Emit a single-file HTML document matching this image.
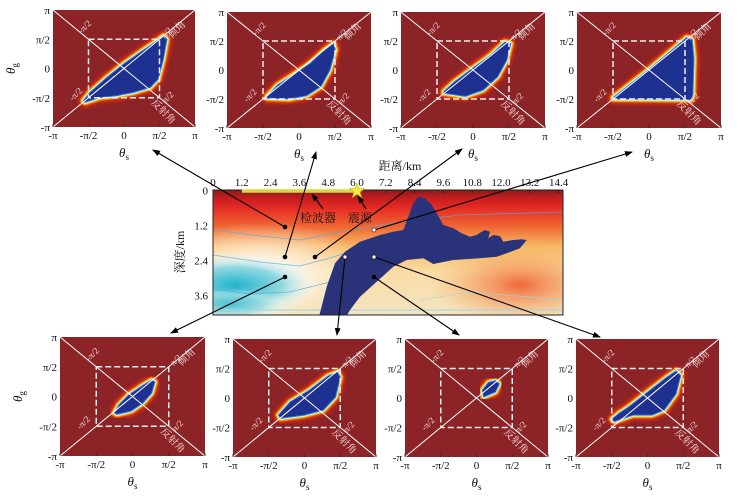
<!DOCTYPE html>
<html><head><meta charset="utf-8">
<style>
html,body{margin:0;padding:0;background:#fff;}
svg{display:block;font-family:"Liberation Serif","Noto Serif CJK SC",serif;}
</style></head>
<body>
<svg id="fig" width="747" height="499" viewBox="0 0 747 499" xmlns="http://www.w3.org/2000/svg">
<defs>
<linearGradient id="vel" x1="0" y1="0" x2="0" y2="1">
<stop offset="0" stop-color="#8a1c1c"/><stop offset="0.07" stop-color="#c81e1e"/>
<stop offset="0.14" stop-color="#e42a24"/><stop offset="0.3" stop-color="#f06a34"/>
<stop offset="0.45" stop-color="#f7b865"/><stop offset="0.65" stop-color="#f9dca4"/>
<stop offset="1" stop-color="#f4e4c0"/></linearGradient>
<radialGradient id="cyan" cx="0.5" cy="0.5" r="0.5">
<stop offset="0" stop-color="#22b4cc"/><stop offset="0.55" stop-color="#8fd8e0"/>
<stop offset="1" stop-color="#ffffff" stop-opacity="0"/></radialGradient>
<radialGradient id="whiteglow" cx="0.5" cy="0.5" r="0.5">
<stop offset="0" stop-color="#ffffff"/><stop offset="1" stop-color="#ffffff" stop-opacity="0"/></radialGradient>
<radialGradient id="orange" cx="0.5" cy="0.5" r="0.5">
<stop offset="0" stop-color="#f04a20"/><stop offset="1" stop-color="#f4a050" stop-opacity="0"/></radialGradient>
<filter id="blur3"><feGaussianBlur stdDeviation="2.2"/></filter>
<filter id="blur1"><feGaussianBlur stdDeviation="0.8"/></filter>
<marker id="ah" markerWidth="8" markerHeight="6" refX="7" refY="3" orient="auto" markerUnits="userSpaceOnUse">
<path d="M0,0 L8,3 L0,6 Z" fill="#000"/></marker>
<clipPath id="cclip"><rect x="213" y="190" width="350" height="125"/></clipPath>
</defs>
<g id="panels"></g>
<g id="center"></g>
<g id="arrows"></g>
</svg>
<script>
const NS="http://www.w3.org/2000/svg";
const svg=document.getElementById('fig');
function mk(tag,attrs,parent){const e=document.createElementNS(NS,tag);for(const k in attrs)e.setAttribute(k,attrs[k]);(parent||svg).appendChild(e);return e;}

// ---- panel data (blob outlines in units of pi/2) ----
const panelNames=['top-1','top-2','top-3','top-4','bottom-1','bottom-2','bottom-3','bottom-4'];
const blobTop1=[[-1.10,-1.16],[-0.68,-0.99],[-0.21,-0.93],[0.26,-0.82],[0.74,-0.65],[0.97,-0.36],[1.11,0.32],[1.21,1.0],[1.11,1.11],[0.92,0.94],[0.45,0.55],[-0.02,0.15],[-0.49,-0.31],[-0.96,-0.82],[-1.15,-1.1]];
const blobTop2=[[-0.89,-0.97],[-0.29,-1.0],[0.21,-0.89],[0.61,-0.57],[0.86,0],[1.01,0.69],[0.96,0.91],[0.71,0.69],[0.31,0.23],[-0.09,-0.11],[-0.59,-0.51],[-0.89,-0.91]];
const blobTop3=[[-0.81,-0.8],[-0.21,-0.91],[0.29,-0.69],[0.69,-0.23],[0.94,0.34],[1.05,0.91],[0.89,0.97],[0.49,0.51],[-0.01,0.06],[-0.51,-0.4],[-0.81,-0.74]];
const blobTop4=[[-1.0,-1.0],[1.15,-1.02],[1.22,-0.9],[1.25,0.4],[1.2,1.05],[1.05,1.12],[0,0.02],[-1.0,-0.95]];
const blobBot1=[[-0.43,-0.6],[-0.04,-0.49],[0.29,-0.22],[0.53,0.11],[0.62,0.49],[0.53,0.55],[0.29,0.38],[-0.11,0.05],[-0.37,-0.27],[-0.5,-0.55]];
const blobBot2=[[-0.67,-0.69],[0,-0.58],[0.53,-0.41],[0.87,0.03],[1,0.7],[0.93,0.87],[0.67,0.76],[0.13,0.26],[-0.4,-0.13],[-0.73,-0.58]];
const blobBot3=[[0.2,0.03],[0.53,0.2],[0.64,0.48],[0.53,0.59],[0.33,0.53],[0.16,0.26]];
const blobBot4=[[-0.93,-0.8],[-0.53,-0.63],[-0.4,-0.58],[0.13,-0.58],[0.47,-0.41],[0.8,0.14],[0.93,0.76],[0.8,0.92],[0.53,0.7],[0,0.2],[-0.53,-0.3],[-0.8,-0.52],[-1,-0.72]];
const blobs=[blobTop1,blobTop2,blobTop3,blobTop4,blobBot1,blobBot2,blobBot3,blobBot4];
const tickLabels=['-π','-π/2','0','π/2','π'];
const tickValues=[-2,-1,0,1,2];

const geom=[[53,10,142,117],[227,12,144,116],[401,12,144,116],[577,12,144,116],
            [60,337,145,119],[233,339,143,118],[405,339,143,118],[576,339,143,118]];
const pg=document.getElementById('panels');
geom.forEach((g,i)=>{
  const [x,y,w,h]=g;
  const sx=u=>x+(u+2)/4*w, sy=v=>y+(2-v)/4*h;
  const grp=mk('g',{},pg);
  
  
  const bg=mk('rect',{x:x,y:y,width:w,height:h,fill:'#8b2327'},grp);
  
  
  const pts=blobs[i].map(p=>sx(p[0]).toFixed(1)+','+sy(p[1]).toFixed(1)).join(' ');
  mk('polygon',{points:pts,fill:'#ff3010',stroke:'#ff3010','stroke-width':9,'stroke-linejoin':'round',filter:'url(#blur3)',opacity:0.9},grp);
  mk('polygon',{points:pts,fill:'#ffd000',stroke:'#ffd000','stroke-width':5.5,'stroke-linejoin':'round',filter:'url(#blur1)'},grp);
  mk('polygon',{points:pts,fill:'#c8f4ff',stroke:'#c8f4ff','stroke-width':3,'stroke-linejoin':'round'},grp);
  const blob=mk('polygon',{points:pts,fill:'#1e3090',stroke:'#3a7ad0','stroke-width':1,'stroke-linejoin':'round'},grp);
  
  
  mk('line',{x1:sx(-2),y1:sy(-2),x2:sx(2),y2:sy(2),stroke:'#fff','stroke-width':1},grp);
  mk('line',{x1:sx(-2),y1:sy(2),x2:sx(2),y2:sy(-2),stroke:'#fff','stroke-width':1},grp);
  mk('rect',{x:sx(-1),y:sy(1),width:sx(1)-sx(-1),height:sy(-1)-sy(1),fill:'none',stroke:'#eee','stroke-width':1.5,'stroke-dasharray':'6,3'},grp);
  const lab=(t,u,v,rot,fs)=>{const e=mk('text',{x:sx(u),y:sy(v),fill:'#f2d8d8','font-size':fs||9,'text-anchor':'middle','transform':`rotate(${rot} ${sx(u)} ${sy(v)})`},grp);e.textContent=t;return e;};
  lab('-π/2',-1.05,1.35,-45);lab('π/2',1.25,1.15,-45);lab('-π/2',-1.3,-0.95,-45);lab('π/2',1.3,-1.05,-45);
  lab('倾角',1.55,1.25,-45,10);lab('反射角',1.05,-1.55,45,10);
  tickValues.forEach((t,k)=>{
    const a=mk('text',{x:sx(t),y:y+h+12,'font-size':11,'text-anchor':'middle',fill:'#111'},grp);a.textContent=tickLabels[k];
    const b=mk('text',{x:x-3,y:sy(t)+4,'font-size':11,'text-anchor':'end',fill:'#111'},grp);b.textContent=tickLabels[k];
    mk('line',{x1:sx(t),y1:y+h,x2:sx(t),y2:y+h-3,stroke:'#333'},grp);
  });
  const xl=mk('text',{x:x+w/2,y:y+h+30,'font-size':13,'font-style':'italic','text-anchor':'middle',fill:'#111'},grp);
  xl.innerHTML='θ<tspan font-size="9" dy="3" font-style="normal">s</tspan>';
  
  
  if(i===0||i===4){
    const yx=x-38,yy=y+h/2;
    const yl=mk('text',{x:yx,y:yy,'font-size':13,'font-style':'italic','text-anchor':'middle',fill:'#111',transform:`rotate(-90 ${yx} ${yy})`},grp);
    yl.innerHTML='θ<tspan font-size="9" dy="3" font-style="normal">g</tspan>';
    
    
  }
});

// ---- central velocity model ----
const distTicks=[0,1.2,2.4,3.6,4.8,6.0,7.2,8.4,9.6,10.8,12.0,13.2,14.4];
const depthTicks=[0,1.2,2.4,3.6];
const X=km=>213+km*24, Y=km=>190.5+km*29.2;
const cg=document.getElementById('center');
const cc=mk('g',{'clip-path':'url(#cclip)'},cg);
mk('rect',{x:213,y:190,width:350,height:125,fill:'url(#vel)'},cc);
mk('ellipse',{cx:520,cy:285,rx:90,ry:40,fill:'url(#orange)',opacity:0.8},cc);
mk('ellipse',{cx:260,cy:270,rx:110,ry:48,fill:'url(#whiteglow)'},cc);
mk('ellipse',{cx:235,cy:285,rx:85,ry:32,fill:'url(#cyan)'},cc);
mk('ellipse',{cx:230,cy:305,rx:60,ry:16,fill:'url(#cyan)',opacity:0.7},cc);
const contours=[[[213,230],[260,236],[300,240],[340,232],[400,222],[460,215],[563,212]],
 [[213,255],[260,262],[300,266],[330,258],[360,248]],
 [[213,289],[250,294],[290,292],[330,282]],
 [[420,300],[470,292],[563,300]],
 [[213,310],[563,310]]];
contours.forEach((c,k)=>mk('polyline',{points:c.map(p=>p.join(',')).join(' '),fill:'none',stroke:k<3?'#5aa8d8':'#9cd6ee','stroke-width':k===4?1.2:0.8,opacity:0.8},cc));
const salt=[[478,467],[500,380],[525,310],[555,275],[600,245],[660,225],[700,215],[730,210],[745,170],[760,130],[775,110],[795,115],[815,135],[830,160],[850,195],[880,205],[905,220],[930,230],[950,225],[965,215],[975,210],[990,215],[985,235],[1000,225],[1020,228],[1030,245],[1060,240],[1085,238],[1100,240],[1080,265],[1040,280],[1010,290],[960,295],[880,300],[820,312],[790,295],[740,300],[700,320],[650,365],[600,410],[570,450],[560,467]];
const sp=mk('polygon',{points:salt.map(p=>(160+p[0]/3).toFixed(1)+','+(160+p[1]/3).toFixed(1)).join(' '),fill:'#2a327a'},cc);


mk('rect',{x:213,y:190,width:350,height:125,fill:'none',stroke:'#222','stroke-width':1},cg);
distTicks.forEach(t=>{
  const e=mk('text',{x:X(t),y:186,'font-size':11,'text-anchor':'middle',fill:'#111'},cg);e.textContent=t===0?'0':t.toFixed(1);
  mk('line',{x1:X(t),y1:190,x2:X(t),y2:193,stroke:'#222'},cg);
});
depthTicks.forEach(t=>{
  const e=mk('text',{x:208,y:Y(t)+4,'font-size':11,'text-anchor':'end',fill:'#111'},cg);e.textContent=t===0?'0':t.toFixed(1);
});
const xt=mk('text',{x:400,y:170,'font-size':12,'text-anchor':'middle',fill:'#111'},cg);xt.textContent='距离/km';


const yt=mk('text',{x:184,y:252,'font-size':12,'text-anchor':'middle',fill:'#111',transform:'rotate(-90 184 252)'},cg);yt.textContent='深度/km';


const rl=mk('line',{x1:X(1.2),y1:191,x2:X(6.0),y2:191,stroke:'#d8d840','stroke-width':3.5},cg);


const sx0=X(6.0),sy0=191;let star='';
for(let k=0;k<10;k++){const r=k%2?3.2:8,a=-Math.PI/2+k*Math.PI/5;star+=(sx0+r*Math.cos(a)).toFixed(1)+','+(sy0+r*Math.sin(a)).toFixed(1)+' ';}
const st=mk('polygon',{points:star,fill:'#f0f040',stroke:'#c8b020','stroke-width':0.6},cg);


const t1=mk('text',{x:318,y:222,'font-size':12,'text-anchor':'middle',fill:'#111'},cg);t1.textContent='检波器';


const t2=mk('text',{x:360,y:222,'font-size':12,'text-anchor':'middle',fill:'#111'},cg);t2.textContent='震源';


mk('line',{x1:323,y1:209,x2:312,y2:194,stroke:'#000','stroke-width':1.2,'marker-end':'url(#ah)'},cg);
mk('line',{x1:366,y1:209,x2:358,y2:196,stroke:'#000','stroke-width':1.2,'marker-end':'url(#ah)'},cg);

// ---- arrows from sample points to panels ----
const ag=document.getElementById('arrows');
const links=[[[285,227],[153,150],'#000'],[[285,257],[316,152],'#000'],[[315,257],[462,149],'#000'],[[374,230],[632,152],'#fff'],
 [[285,277],[171,333],'#000'],[[345,257],[337,335],'#fff'],[[374,277],[459,335],'#000'],[[374,257],[600,337],'#fff']];
links.forEach((l,k)=>{
  const ln=mk('line',{x1:l[0][0],y1:l[0][1],x2:l[1][0],y2:l[1][1],stroke:'#000','stroke-width':1.1,'marker-end':'url(#ah)'},ag);
  
  
  const d=mk('circle',{cx:l[0][0],cy:l[0][1],r:2,fill:l[2],stroke:'#000','stroke-width':0.6},ag);
  
  
});
</script>
</body></html>
